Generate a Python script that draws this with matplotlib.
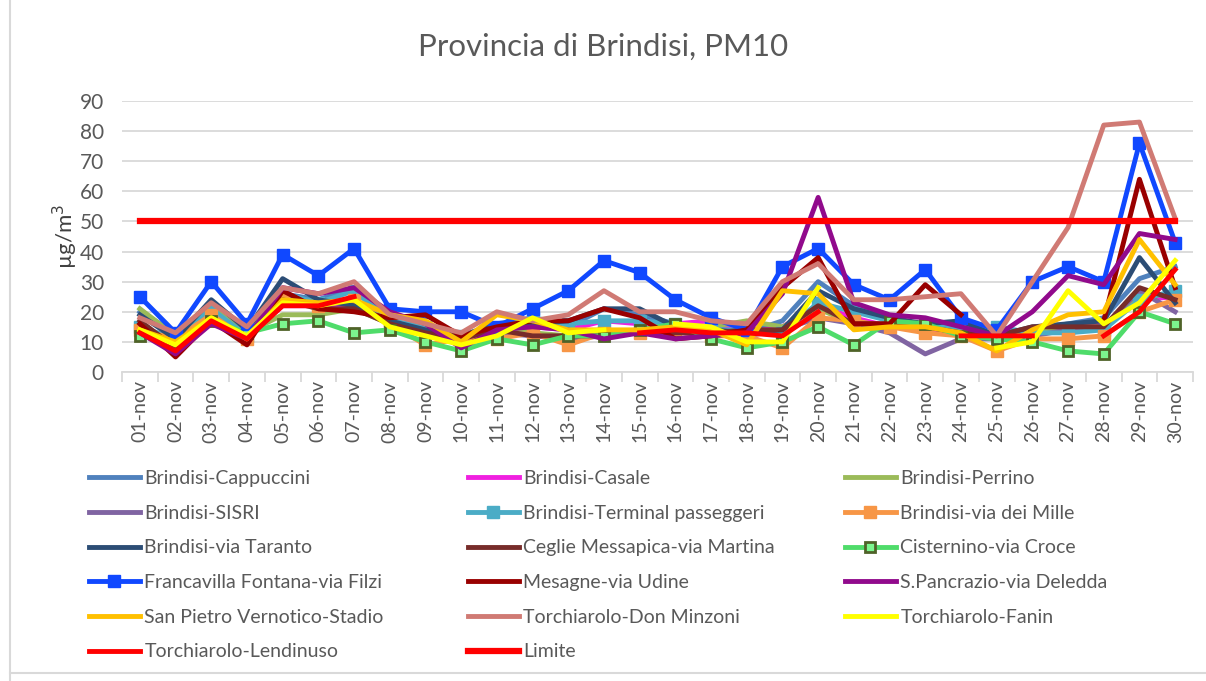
import numpy as np
import matplotlib
matplotlib.use("Agg")
import matplotlib.pyplot as plt
from matplotlib.lines import Line2D

plt.rcParams['font.family'] = ['Lato', 'DejaVu Sans']

nan = np.nan
giorni = ["%02d-nov" % d for d in range(1, 31)]

# valori PM10 (ug/m3)
cappuccini = [20, 13, 22, 14, 26, 24, 28, 17, 15, 12, 16, 18, 15, 21, 19, 16, 15, 13, 17, 30, 22, 17, 15, 14, 13, 14, 16, 18, 31, 35]
casale = [14, 10, 20, 12, 22, 22, 22, 17, 14, 11, 14, 15, 14, 17, 16, 16, 17, 13, 15, 22, 18, 15, 14, 13, 12, 14, 15, 16, 24, 25]
perrino = [21, 12, 22, 13, 19, 19, 21, 16, 13, 11, 16, 13, 12, 13, 14, 15, 15, 17, 15, 21, 16, 15, 15, 13, 11, 13, 15, 15, 25, 26]
sisri = [16, 9, 18, 12, 24, 22, 24, 16, 13, 9, 13, 12, 11, 12, 13, 13, 14, 12, 14, 18, 16, 13, 6, 11, 11, 12, 14, 15, 27, 20]
terminal = [15, 11, 21, 12, 26, 23, 27, 17, 15, 12, 14, 18, 16, 17, 17, 16, 14, 14, 13, 23, 20, 17, 15, 15, 15, 13, 13, 14, 24, 27]
dei_mille = [14, 11, 19, 11, 24, 22, 24, 16, 9, 11, 11, 13, 9, 13, 13, 14, 12, 12, 8, 18, 17, 15, 13, 12, 7, 11, 11, 12, 20, 24]
via_taranto = [19, 11, 24, 14, 31, 24, 22, 17, 14, 12, 16, 16, 17, 21, 21, 15, 14, 13, 14, 27, 21, 18, 16, 17, 12, 15, 16, 17, 38, 23]
ceglie = [17, 8, 17, 12, 24, 21, 21, 16, 13, 11, 14, 12, 12, 12, 14, 13, 13, 14, 14, 22, 16, 16, 15, 13, 12, 15, 15, 15, 28, 24]
cisternino = [12, 10, 17, 13, 16, 17, 13, 14, 10, 7, 11, 9, 12, 12, 14, 16, 11, 8, 10, 15, 9, 17, 16, 12, 11, 10, 7, 6, 20, 16]
francavilla = [25, 13, 30, 16, 39, 32, 41, 21, 20, 20, 15, 21, 27, 37, 33, 24, 18, 14, 35, 41, 29, 24, 34, 18, 14, 30, 35, 30, 76, 43]
mesagne = [16, 5, 17, 9, 27, 21, 20, 18, 19, 12, 15, 17, 17, 21, 18, 11, 12, 14, 28, 38, 16, 16, 29, 19, nan, nan, nan, 17, 64, 28]
s_pancrazio = [13, 6, 16, 11, 28, 26, 28, 20, 16, 8, 14, 15, 14, 11, 13, 11, 12, 13, 26, 58, 23, 19, 18, 15, 12, 20, 32, 29, 46, 44]
san_pietro = [14, 10, 18, 11, 24, 23, 24, 19, 17, 10, 19, 17, 14, 14, 14, 15, 14, 9, 27, 26, 14, 15, 15, 13, 7, 14, 19, 20, 44, 29]
don_minzoni = [18, 13, 23, 15, 28, 26, 30, 19, 16, 13, 20, 17, 19, 27, 20, 20, 17, 16, 30, 36, 24, 24, 25, 26, 12, 30, 48, 82, 83, 51]
fanin = [14, 9, 18, 12, 23, 22, 24, 15, 12, 9, 12, 18, 13, 14, nan, 16, 15, 10, 10, 28, nan, nan, nan, nan, 8, 10, 27, 16, 23, 37]
lendinuso = [13, 7, 17, 11, 22, 22, 25, nan, nan, nan, nan, nan, nan, nan, 13, 14, 13, 13, 12, 20, nan, nan, nan, 12, 12, 12, nan, 12, 20, 34]
limite = [50] * 30

serie = [
    ("Brindisi-Cappuccini", cappuccini, "#4F81BD", None),
    ("Brindisi-Casale", casale, "#F020E0", None),
    ("Brindisi-Perrino", perrino, "#9BBB59", None),
    ("Brindisi-SISRI", sisri, "#8064A2", None),
    ("Brindisi-Terminal passeggeri", terminal, "#4BACC6", "s"),
    ("Brindisi-via dei Mille", dei_mille, "#F79646", "s"),
    ("Brindisi-via Taranto", via_taranto, "#2C4D75", None),
    ("Ceglie Messapica-via Martina", ceglie, "#772C2A", None),
    ("Cisternino-via Croce", cisternino, "#4FDC6A", "s"),
    ("Francavilla Fontana-via Filzi", francavilla, "#1048FF", "s"),
    ("Mesagne-via Udine", mesagne, "#990000", None),
    ("S.Pancrazio-via Deledda", s_pancrazio, "#910A8C", None),
    ("San Pietro Vernotico-Stadio", san_pietro, "#FFC000", None),
    ("Torchiarolo-Don Minzoni", don_minzoni, "#D07A74", None),
    ("Torchiarolo-Fanin", fanin, "#FFFF00", None),
    ("Torchiarolo-Lendinuso", lendinuso, "#FF0000", None),
    ("Limite", limite, "#FF0000", None),
]

fig = plt.figure(figsize=(12.06, 6.81), dpi=100)
ax = fig.add_axes([122 / 1206, 1 - 372 / 681, (1193 - 122) / 1206, (372 - 101) / 681])

x = np.arange(30)
handles = []
for nome, val, col, mk in serie:
    kw = dict(color=col, lw=3.5, label=nome, solid_joinstyle="round")
    if nome == "Limite":
        kw["lw"] = 4.5
    if mk:
        kw.update(marker=mk, ms=8, mfc=col, mec=col)
    if nome == "Cisternino-via Croce":
        kw.update(ms=7, mfc="#7CF58E", mec="#4F6228", mew=2)
    h, = ax.plot(x, np.array(val, dtype=float), **kw)
    handles.append(h)

ax.set_xlim(-0.5, 29.5)
ax.set_ylim(0, 90)
ax.set_yticks(range(0, 91, 10))
ax.grid(axis="y", color="#D9D9D9", lw=1.3)
ax.set_axisbelow(True)
for s in ["top", "right", "left"]:
    ax.spines[s].set_visible(False)
ax.spines["bottom"].set_color("#D9D9D9")
ax.spines["bottom"].set_linewidth(1.3)
ax.tick_params(axis="y", length=0, labelsize=15, labelcolor="#595959", pad=13)
ax.set_xticks(x)
ax.set_xticklabels(giorni, rotation=90, fontsize=14, color="#595959")
ax.set_xticks(np.arange(-0.5, 30, 1), minor=True)
ax.tick_params(axis="x", which="major", length=0, pad=6)
ax.tick_params(axis="x", which="minor", length=7, color="#D9D9D9", width=1.3)
ax.set_ylabel("µg/m$^3$", fontsize=16, color="#404040", labelpad=0)

fig.text(0.5, 1 - 47 / 681, "Provincia di Brindisi, PM10", ha="center", va="center",
         fontsize=22.5, color="#595959")

# legenda su tre colonne
col_x = [89, 468, 845]
for c in range(3):
    hs = handles[c::3]
    leg = fig.legend(handles=hs, labels=[h.get_label() for h in hs],
                     loc="upper left", bbox_to_anchor=(col_x[c] / 1206, 1 - 470 / 681),
                     frameon=False, fontsize=14, handlelength=2.6, handletextpad=0.25,
                     labelspacing=0.91, borderpad=0, borderaxespad=0)
    for t in leg.get_texts():
        t.set_color("#595959")

# cornice grigia del grafico
fig.add_artist(Line2D([10 / 1206, 10 / 1206], [0, 1], color="#D9D9D9", lw=1.5))
fig.add_artist(Line2D([10 / 1206, 1], [8 / 681, 8 / 681], color="#D9D9D9", lw=1.5))

fig.savefig("out.png", dpi=100)
